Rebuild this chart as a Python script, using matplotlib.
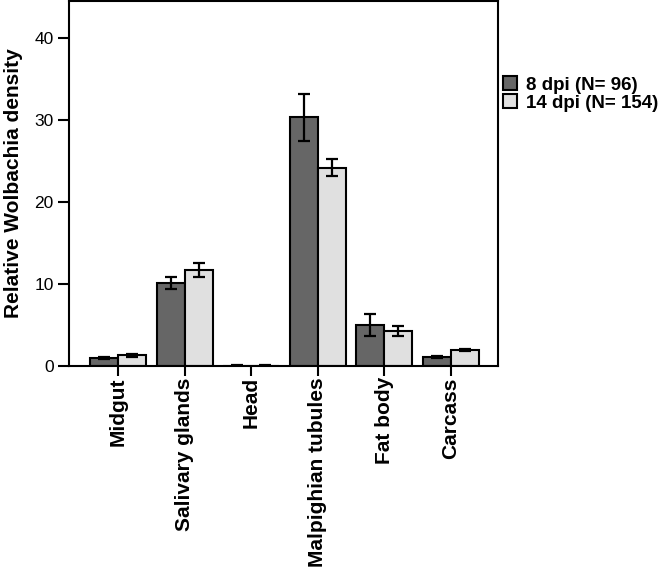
import matplotlib
matplotlib.use("Agg")
import matplotlib.pyplot as plt
import numpy as np

plt.rcParams['font.family'] = ['Liberation Sans', 'DejaVu Sans']

tissues = ['Midgut', 'Salivary glands', 'Head', 'Malpighian tubules', 'Fat body', 'Carcass']
dpi8 = [1.0, 10.1, 0.05, 30.3, 5.0, 1.13]
dpi8_err = [0.15, 0.7, 0.02, 2.9, 1.4, 0.1]
dpi14 = [1.3, 11.7, 0.05, 24.2, 4.3, 1.95]
dpi14_err = [0.15, 0.8, 0.02, 1.0, 0.6, 0.1]
series_labels = ['8 dpi (N= 96)', '14 dpi (N= 154)']

fig = plt.figure(figsize=(6.6, 5.68), dpi=100)
ax = fig.add_axes([0.1045, 0.3556, 0.65, 0.6426])

x = np.arange(len(tissues))
w = 0.42
err_kw = dict(ecolor='black', elinewidth=1.6, capsize=4, capthick=1.6)
ax.bar(x - w / 2, dpi8, w, yerr=dpi8_err, color='#666666', edgecolor='black',
       linewidth=1.5, label=series_labels[0], error_kw=err_kw)
ax.bar(x + w / 2, dpi14, w, yerr=dpi14_err, color='#e0e0e0', edgecolor='black',
       linewidth=1.5, label=series_labels[1], error_kw=err_kw)

ax.set_xlim(-0.74, 5.71)
ax.set_ylim(0, 44.5)
ax.set_yticks([0, 10, 20, 30, 40])
ax.tick_params(axis='y', labelsize=12.5, length=8, width=1.5, pad=3)
ax.set_xticks(x)
ax.set_xticklabels(tissues, rotation=90, fontsize=15, fontweight='bold')
ax.tick_params(axis='x', length=7, width=1.5, pad=1)
for s in ax.spines.values():
    s.set_linewidth(1.5)

ax.set_ylabel('Relative Wolbachia density', fontsize=15, fontweight='bold')
ax.yaxis.set_label_coords(-0.106, 0.5)

fig.legend(loc='center left', bbox_to_anchor=(0.762, 0.8345), frameon=False,
           prop={'size': 13.5, 'weight': 'bold'}, handlelength=0.75, handleheight=0.75,
           handletextpad=0.5, labelspacing=0.05, borderpad=0, borderaxespad=0)

fig.savefig('out.png', dpi=100)
